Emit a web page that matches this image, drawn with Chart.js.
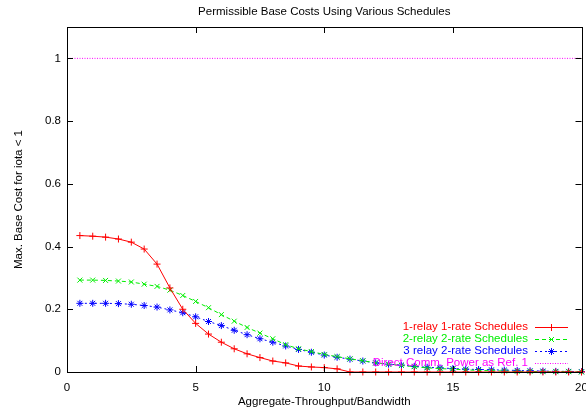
<!DOCTYPE html>
<html>
<head>
<meta charset="UTF-8">
<title>Permissible Base Costs</title>
<script src="https://cdn.jsdelivr.net/npm/chart.js"></script>
<style>
  html, body { margin: 0; padding: 0; background: #fff; }
  #wrap { width: 586px; height: 414px; }
</style>
</head>
<body>
<div id="wrap"><canvas id="chart" width="586" height="414"></canvas></div>
<script>
// x positions (Aggregate-Throughput/Bandwidth)
const xs = [0.5, 1, 1.5, 2, 2.5, 3, 3.5, 4, 4.5, 5, 5.5, 6, 6.5, 7, 7.5, 8, 8.5, 9, 9.5, 10,
            10.5, 11, 11.5, 12, 12.5, 13, 13.5, 14, 14.5, 15, 15.5, 16, 16.5, 17, 17.5, 18, 18.5, 19, 19.5, 20];

const oneRelay = [0.435, 0.433, 0.430, 0.424, 0.414, 0.392, 0.344, 0.268, 0.200, 0.155,
                  0.121, 0.095, 0.074, 0.058, 0.046, 0.035, 0.029, 0.019, 0.016, 0.014,
                  0.010, 0, 0, 0, 0, 0, 0, 0, 0, 0,
                  0, 0, 0, 0, 0, 0, 0, 0, 0, 0];

const twoRelay = [0.293, 0.293, 0.292, 0.290, 0.287, 0.280, 0.273, 0.261, 0.244, 0.225,
                  0.205, 0.183, 0.162, 0.142, 0.124, 0.106, 0.087, 0.074, 0.065, 0.056,
                  0.049, 0.042, 0.036, 0.029, 0.025, 0.021, 0.017, 0.013, 0.011, 0.009,
                  0.007, 0.005, 0.004, 0.003, 0.002, 0.002, 0.001, 0.001, 0.001, 0.000];

const threeRelay = [0.219, 0.219, 0.219, 0.218, 0.216, 0.212, 0.207, 0.198, 0.189, 0.176,
                    0.161, 0.148, 0.133, 0.119, 0.106, 0.095, 0.083, 0.072, 0.063, 0.054,
                    0.047, 0.041, 0.035, 0.029, 0.025, 0.022, 0.018, 0.015, 0.013, 0.011,
                    0.009, 0.008, 0.007, 0.006, 0.005, 0.004, 0.003, 0.002, 0.002, 0.001];

const directX = [0, 20];
const directY = [1, 1];

const seriesNames = ['1-relay 1-rate Schedules', '2-relay 2-rate Schedules',
                     '3 relay 2-rate Schedules', 'Direct Comm. Power as Ref. 1'];

const FONT = '"Liberation Sans", Arial, Helvetica, sans-serif';
const FS = 11.5;

function pts(x, y) { return x.map((v, i) => ({ x: v, y: y[i] })); }

// gnuplot-ish frame, inward ticks, title and key
const gnuplotDeco = {
  id: 'gnuplotDeco',
  afterDraw(chart) {
    const ctx = chart.ctx;
    const a = chart.chartArea;
    const xs_ = chart.scales.x, ys_ = chart.scales.y;
    ctx.save();
    ctx.strokeStyle = '#000';
    ctx.lineWidth = 1;
    ctx.setLineDash([]);
    ctx.strokeRect(Math.round(a.left) + 0.5, Math.round(a.top) + 0.5,
                   Math.round(a.right - a.left), Math.round(a.bottom - a.top));
    const tl = 6;
    ctx.beginPath();
    xs_.ticks.forEach(t => {
      const px = Math.round(xs_.getPixelForValue(t.value)) + 0.5;
      ctx.moveTo(px, a.bottom); ctx.lineTo(px, a.bottom - tl);
      ctx.moveTo(px, a.top); ctx.lineTo(px, a.top + tl);
    });
    ys_.ticks.forEach(t => {
      const py = Math.round(ys_.getPixelForValue(t.value)) + 0.5;
      ctx.moveTo(a.left, py); ctx.lineTo(a.left + tl, py);
      ctx.moveTo(a.right, py); ctx.lineTo(a.right - tl, py);
    });
    ctx.stroke();

    // title
    ctx.fillStyle = '#000';
    ctx.font = FS + 'px ' + FONT;
    ctx.textAlign = 'center';
    ctx.textBaseline = 'middle';
    ctx.fillText('Permissible Base Costs Using Various Schedules', (a.left + a.right) / 2, 12);

    // key
    const textRight = 528, x0 = 535, x1 = 568, rowY = [327, 339, 351, 363];
    chart.data.datasets.forEach((ds, i) => {
      const y = rowY[i];
      ctx.fillStyle = ds.borderColor;
      ctx.textAlign = 'right';
      ctx.fillText(seriesNames[i], textRight, y);
      ctx.strokeStyle = ds.borderColor;
      ctx.lineWidth = ds.borderWidth;
      ctx.setLineDash(ds.borderDash || []);
      ctx.beginPath();
      ctx.moveTo(x0, y + 0.5); ctx.lineTo(x1, y + 0.5);
      ctx.stroke();
      ctx.setLineDash([]);
      if (ds.pointRadius > 0) {
        ctx.strokeStyle = ds.borderColor;
        ctx.lineWidth = 1;
        Chart.helpers.drawPoint(ctx, {
          pointStyle: ds.pointStyle, radius: ds.pointRadius, borderWidth: 1, rotation: 0
        }, (x0 + x1) / 2, y + 0.5);
      }
    });
    ctx.restore();
  }
};

const common = { showLine: true, fill: false, tension: 0, clip: false, borderWidth: 1,
                 pointBorderWidth: 1, pointRadius: 3.5, pointHoverRadius: 3.5 };

function series(label, data, color, extra) {
  return Object.assign({}, common, {
    label: label, data: data, borderColor: color, backgroundColor: color,
    pointBorderColor: color, pointBackgroundColor: color
  }, extra);
}

new Chart(document.getElementById('chart'), {
  type: 'scatter',
  data: {
    datasets: [
      series(seriesNames[0], pts(xs, oneRelay), '#ff0000', { pointStyle: 'cross' }),
      series(seriesNames[1], pts(xs, twoRelay), '#00ee00', { pointStyle: 'crossRot', borderDash: [4, 3] }),
      series(seriesNames[2], pts(xs, threeRelay), '#0000ff', { pointStyle: 'star', borderDash: [2, 3] }),
      series(seriesNames[3], pts(directX, directY), '#ff00ff',
             { pointRadius: 0, pointStyle: false, borderDash: [1, 1.5] })
    ]
  },
  options: {
    responsive: false,
    animation: false,
    events: [],
    layout: { padding: { top: 27, right: 3, left: 0, bottom: 0 } },
    plugins: { legend: { display: false }, title: { display: false }, tooltip: { enabled: false } },
    scales: {
      x: {
        type: 'linear', min: 0, max: 20,
        grid: { display: false, drawTicks: false },
        border: { display: false },
        ticks: { stepSize: 5, color: '#000', padding: 9, font: { family: FONT, size: FS } },
        title: { display: true, text: 'Aggregate-Throughput/Bandwidth', color: '#000',
                 font: { family: FONT, size: FS }, padding: { top: 0, bottom: 5 } },
        afterFit: s => { s.height = 42; s.paddingLeft = 0; s.paddingRight = 0; }
      },
      y: {
        type: 'linear', min: 0, max: 1.1,
        grid: { display: false, drawTicks: false },
        border: { display: false },
        ticks: { stepSize: 0.2, color: '#000', padding: 6, font: { family: FONT, size: FS },
                 callback: v => String(+v.toFixed(1)) },
        afterBuildTicks: s => { s.ticks = s.ticks.filter(t => t.value <= 1.0001); },
        title: { display: true, text: 'Max. Base Cost for iota < 1', color: '#000',
                 font: { family: FONT, size: FS }, padding: { top: 12, bottom: 0 } },
        afterFit: s => { s.width = 67; s.paddingTop = 0; s.paddingBottom = 0; }
      }
    }
  },
  plugins: [gnuplotDeco]
});
</script>
</body>
</html>
